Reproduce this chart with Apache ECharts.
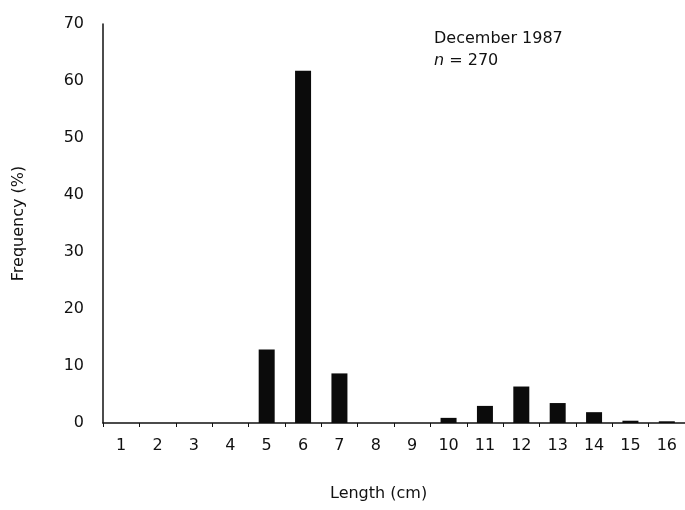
<!DOCTYPE html>
<html>
<head>
<meta charset="utf-8">
<title>Length frequency, December 1987</title>
<script src="https://cdn.jsdelivr.net/npm/echarts@6/dist/echarts.min.js"></script>
<style>
  html, body { margin: 0; padding: 0; background: #fff; }
  #chart { width: 685px; height: 510px; }
</style>
</head>
<body>
<div id="chart"></div>
<script>
// Length classes (cm) and their share of the sample (%)
const lengthClasses = ['1', '2', '3', '4', '5', '6', '7', '8', '9', '10', '11', '12', '13', '14', '15', '16'];
const frequencyPct = [0, 0, 0, 0, 12.9, 61.8, 8.7, 0, 0, 0.9, 3.0, 6.4, 3.5, 1.9, 0.4, 0.3];
const yTicks = { min: 0, max: 70, step: 10 };

const FONT = 'DejaVu Sans';
const INK = '#111';

const chart = echarts.init(document.getElementById('chart'), null, { renderer: 'canvas' });

chart.setOption({
  animation: false,
  backgroundColor: '#fff',
  title: [
    {
      text: 'December 1987',
      left: 434, top: 31, padding: 0,
      textStyle: { fontFamily: FONT, fontSize: 16, fontWeight: 'normal', color: INK }
    },
    {
      text: '{i|n} = 270',
      left: 434, top: 53, padding: 0,
      textStyle: {
        fontFamily: FONT, fontSize: 16, fontWeight: 'normal', color: INK,
        rich: { i: { fontFamily: FONT, fontSize: 16, fontStyle: 'italic', color: INK } }
      }
    },
    {
      text: 'Length (cm)',
      left: 330, top: 486, padding: 0,
      textStyle: { fontFamily: FONT, fontSize: 16, fontWeight: 'normal', color: INK }
    }
  ],
  grid: { left: 103, right: -3, top: 24, bottom: 87, containLabel: false },
  xAxis: {
    type: 'category',
    data: lengthClasses,
    boundaryGap: true,
    axisLine: { show: true, lineStyle: { color: INK, width: 1.5 } },
    axisTick: { show: true, length: 4, lineStyle: { color: INK, width: 1 } },
    axisLabel: { margin: 15, fontFamily: FONT, fontSize: 16, color: INK },
    splitLine: { show: false }
  },
  yAxis: {
    type: 'value',
    min: yTicks.min,
    max: yTicks.max,
    interval: yTicks.step,
    name: 'Frequency (%)',
    nameLocation: 'middle',
    nameRotate: 90,
    nameGap: 76,
    nameTextStyle: { fontFamily: FONT, fontSize: 16, color: INK },
    axisLine: { show: true, lineStyle: { color: INK, width: 1.5 } },
    axisTick: { show: false },
    axisLabel: { margin: 19, fontFamily: FONT, fontSize: 16, color: INK },
    splitLine: { show: false }
  },
  series: [
    {
      type: 'bar',
      data: frequencyPct,
      barWidth: 16,
      itemStyle: { color: '#0b0b0b' }
    }
  ]
});
</script>
</body>
</html>
